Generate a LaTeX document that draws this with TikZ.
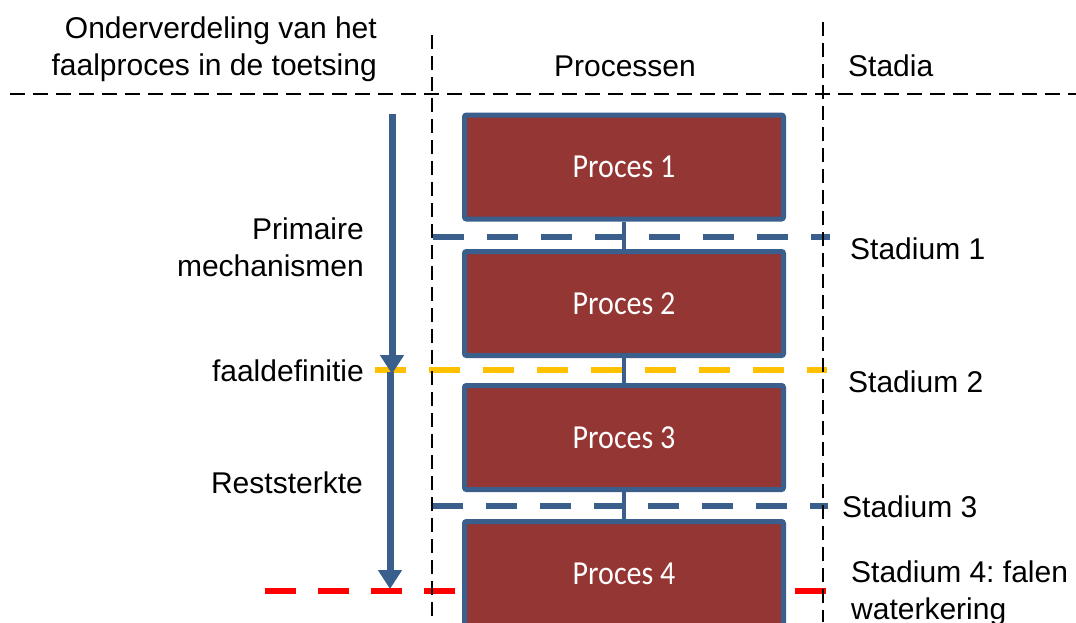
\documentclass[tikz,border=0pt]{standalone}
\usepackage{fontspec}
\setmainfont{Liberation Sans}
\newfontfamily\boxfont{Carlito}
\usetikzlibrary{arrows.meta}
\definecolor{boxred}{HTML}{943634}
\definecolor{boxblue}{HTML}{3A5F8D}
\definecolor{stageyellow}{HTML}{FFC000}
\definecolor{stagered}{HTML}{FF0000}
\tikzset{
  procbox/.style={draw=boxblue, line width=5pt, fill=boxred, rounded corners=2pt,
    minimum width=319pt, minimum height=104pt, inner sep=0pt,
    text=white, font=\boxfont\fontsize{30}{36}\selectfont},
  lbl/.style={inner sep=0pt, font=\fontsize{30}{37}\selectfont},
  guide/.style={black, line width=1.3pt, dash pattern=on 14pt off 7pt},
  hguide/.style={black, line width=1.3pt, dash pattern=on 15pt off 8pt},
  stage/.style={line width=6pt, dash pattern=on 31pt off 23pt},
  redstage/.style={line width=6pt, dash pattern=on 31pt off 22pt, stagered},
  link/.style={boxblue, line width=4.5pt},
  flow/.style={boxblue, line width=7pt, -{Triangle[width=23pt,length=19pt]}}
}
\begin{document}
\frenchspacing
\begin{tikzpicture}[x=1pt,y=-1pt]
\clip (0,0) rectangle (1076,622);
\fill[white] (0,0) rectangle (1076,622);

% coordinates
\coordinate (s1a) at (433,237); \coordinate (s1b) at (830,237);
\coordinate (s2a) at (375,370); \coordinate (s2b) at (827,370);
\coordinate (s3a) at (432,506); \coordinate (s3b) at (828,506);
\coordinate (s4a) at (265,591); \coordinate (s4b) at (826,591);
\coordinate (v1a) at (432,35);  \coordinate (v1b) at (432,622);
\coordinate (v2a) at (823,22);  \coordinate (v2b) at (823,622);
\coordinate (ha) at (10,94);    \coordinate (hb) at (1076,94);
\coordinate (a1s) at (392,114); \coordinate (a1e) at (392,374);
\coordinate (a2s) at (390,372); \coordinate (a2e) at (390,589);

% stage lines
\draw[stage, boxblue] (s1a) -- (s1b);
\draw[stage, stageyellow] (s2a) -- (s2b);
\draw[stage, boxblue] (s3a) -- (s3b);
\draw[redstage] (s4a) -- (s4b);

% guide lines
\draw[hguide] (ha) -- (hb);
\draw[guide] (v1a) -- (v1b);
\draw[guide] (v2a) -- (v2b);

% process boxes
\node[procbox] (p1) at (624,167)   {\scalebox{1}[1.12]{Proces 1}};
\node[procbox] (p2) at (624,303.5) {\scalebox{1}[1.12]{Proces 2}};
\node[procbox] (p3) at (624,437.5) {\scalebox{1}[1.12]{Proces 3}};
\node[procbox] (p4) at (624,573.5) {\scalebox{1}[1.12]{Proces 4}};

\draw[link] (p1.south) -- (p2.north);
\draw[link] (p2.south) -- (p3.north);
\draw[link] (p3.south) -- (p4.north);

% flow arrows
\draw[flow] (a1s) -- (a1e);
\draw[flow] (a2s) -- (a2e);

% header texts
\node[lbl, anchor=east, align=right] (hdr) at (377,49) {Onderverdeling van het\\faalproces in de toetsing};
\node[lbl] (hproc) at (625,66) {Processen};
\node[lbl, anchor=west] (hstad) at (848,66) {Stadia};

% left labels
\node[lbl, anchor=east, align=right] (prim) at (364,247) {Primaire\\mechanismen};
\node[lbl, anchor=east] (faal) at (364,371) {faaldefinitie};
\node[lbl, anchor=east] (rest) at (363,483) {Reststerkte};

% right labels
\node[lbl, anchor=west] (st1) at (850,249) {Stadium 1};
\node[lbl, anchor=west] (st2) at (848,382) {Stadium 2};
\node[lbl, anchor=west] (st3) at (842,507) {Stadium 3};
\node[lbl, anchor=west, align=left] (st4) at (851,593) {Stadium 4: falen\\waterkering};
\end{tikzpicture}
\end{document}
